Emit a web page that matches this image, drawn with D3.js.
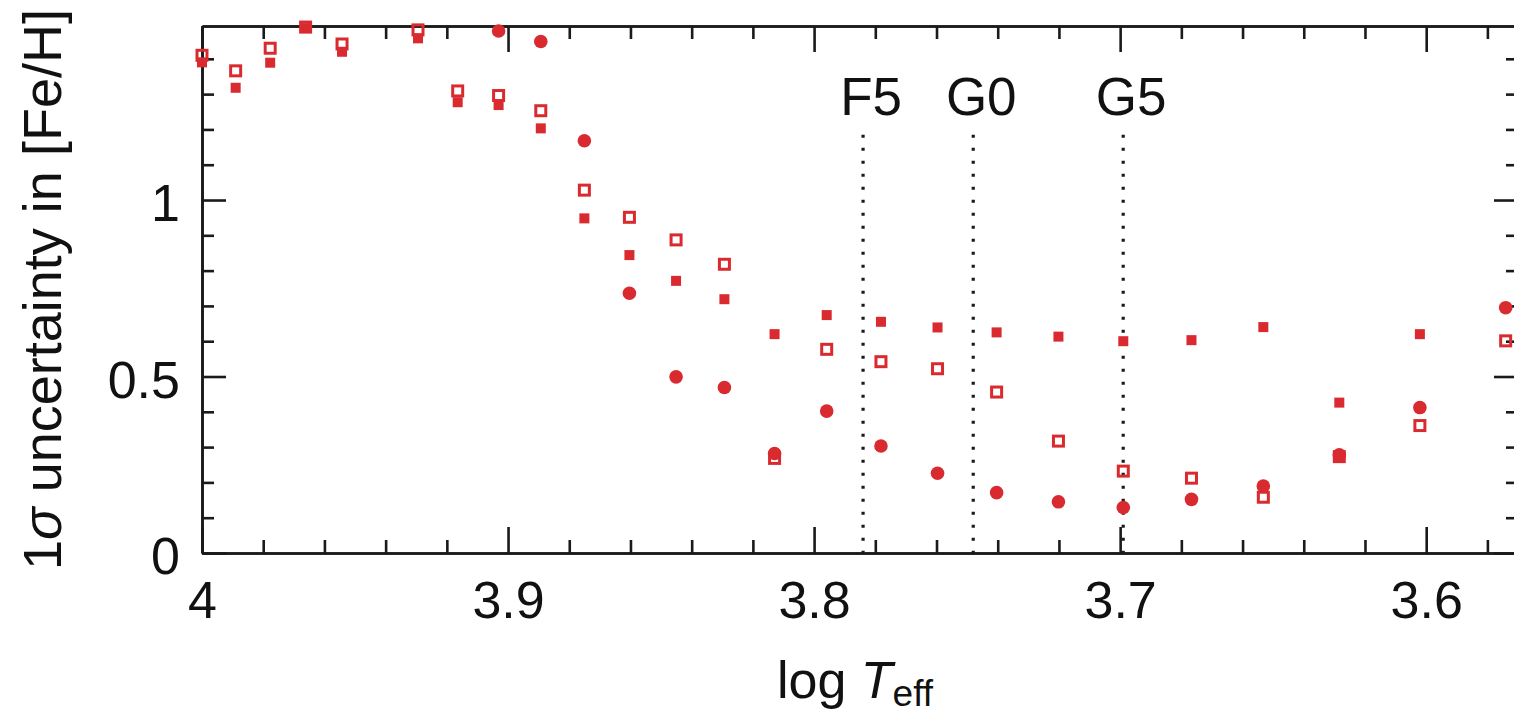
<!DOCTYPE html>
<html>
<head>
<meta charset="utf-8">
<script src="https://cdn.jsdelivr.net/npm/d3@7"></script>
<style>
  html, body { margin: 0; padding: 0; background: #fff; }
  svg { display: block; }
  text { font-family: "Liberation Sans", Arial, Helvetica, sans-serif; fill: #111; }
</style>
</head>
<body>
<svg id="chart" width="1514" height="715"></svg>
<script>
// Effective-temperature grid (K) of the model stars
const teff = [10000, 9750, 9500, 9250, 9000, 8750, 8500, 8250, 8000, 7750, 7500, 7250, 7000,
              6750, 6500, 6250, 6000, 5750, 5500, 5250, 5000, 4750, 4500, 4250, 4000, 3750];

// 1-sigma [Fe/H] uncertainty for three configurations (null = not plotted)
const filledSquares = [1.390, 1.318, 1.389, 1.487, 1.420, null, 1.458, 1.277, 1.269, 1.203, 0.948, 0.844, 0.771,
                       0.719, 0.620, 0.674, 0.655, 0.639, 0.625, 0.613, 0.600, 0.603, 0.640, 0.426, 0.620, null];
const openSquares   = [1.410, 1.366, 1.430, 1.490, 1.442, null, 1.482, 1.309, 1.296, 1.253, 1.028, 0.951, 0.887,
                       0.818, 0.268, 0.577, 0.542, 0.522, 0.456, 0.317, 0.232, 0.212, 0.158, 0.273, 0.361, 0.601];
const filledCircles = [null, null, null, null, null, null, null, null, 1.479, 1.449, 1.168, 0.736, 0.499,
                       0.469, 0.282, 0.402, 0.303, 0.226, 0.171, 0.145, 0.129, 0.152, 0.190, 0.278, 0.412, 0.695];

// Spectral-type markers (log Teff)
const spTypes = ["F5", "G0", "G5"];
const spLogT  = [3.784, 3.748, 3.699];

// Axis ticks
const xMajor = [4, 3.9, 3.8, 3.7, 3.6];
const xMajorLabels = ["4", "3.9", "3.8", "3.7", "3.6"];
const xMinor = [3.98, 3.96, 3.94, 3.92, 3.88, 3.86, 3.84, 3.82, 3.78, 3.76, 3.74, 3.72,
                3.68, 3.66, 3.64, 3.62, 3.58];
const yMajor = [0, 0.5, 1];
const yMajorLabels = ["0", "0.5", "1"];
const yMinor = [0.1, 0.2, 0.3, 0.4, 0.6, 0.7, 0.8, 0.9, 1.1, 1.2, 1.3, 1.4];

const red = "#d92a2f";
const plotL = 202, plotR = 1518, plotT = 26, plotB = 553;

const svg = d3.select("#chart");
svg.append("rect").attr("width", 1514).attr("height", 715).attr("fill", "#fff");

const x = d3.scaleLinear().domain([4, 3.57]).range([plotL, plotR]);
const y = d3.scaleLinear().domain([0, 1.493]).range([plotB, plotT]);

const axisStroke = "#1a1a1a";
function styleAxis(g) {
  g.select(".domain").attr("stroke", axisStroke).attr("stroke-width", 2.6);
  g.selectAll(".tick line").attr("stroke", axisStroke).attr("stroke-width", 2.6);
}

// Minor ticks on all four sides
svg.append("g").attr("transform", `translate(0,${plotB})`)
  .call(d3.axisBottom(x).tickValues(xMinor).tickSize(-13).tickSizeOuter(0).tickFormat(""))
  .call(styleAxis);
svg.append("g").attr("transform", `translate(0,${plotT})`)
  .call(d3.axisTop(x).tickValues(xMinor).tickSize(-13).tickSizeOuter(0).tickFormat(""))
  .call(styleAxis);
svg.append("g").attr("transform", `translate(${plotL},0)`)
  .call(d3.axisLeft(y).tickValues(yMinor).tickSize(-12).tickSizeOuter(0).tickFormat(""))
  .call(styleAxis);
svg.append("g").attr("transform", `translate(${plotR},0)`)
  .call(d3.axisRight(y).tickValues(yMinor).tickSize(-12).tickSizeOuter(0).tickFormat(""))
  .call(styleAxis);

// Major ticks
const xAxis = svg.append("g").attr("transform", `translate(0,${plotB})`)
  .call(d3.axisBottom(x).tickValues(xMajor).tickSize(-26).tickSizeOuter(0).tickPadding(28)
    .tickFormat((d, i) => xMajorLabels[i]))
  .call(styleAxis);
xAxis.selectAll("text").attr("font-size", 52).attr("font-family", null).attr("fill", "#111");

svg.append("g").attr("transform", `translate(0,${plotT})`)
  .call(d3.axisTop(x).tickValues(xMajor).tickSize(-26).tickSizeOuter(0).tickFormat(""))
  .call(styleAxis);

const yAxis = svg.append("g").attr("transform", `translate(${plotL},0)`)
  .call(d3.axisLeft(y).tickValues(yMajor).tickSize(-24).tickSizeOuter(0).tickPadding(22)
    .tickFormat((d, i) => yMajorLabels[i]))
  .call(styleAxis);
yAxis.selectAll("text").attr("font-size", 52).attr("font-family", null).attr("fill", "#111")
  .attr("dy", "0.40em");

svg.append("g").attr("transform", `translate(${plotR},0)`)
  .call(d3.axisRight(y).tickValues(yMajor).tickSize(-24).tickSizeOuter(0).tickFormat(""))
  .call(styleAxis);

// Spectral-type reference lines
const lineTop = 1.185;
spTypes.forEach((name, i) => {
  svg.append("line")
    .attr("x1", x(spLogT[i])).attr("x2", x(spLogT[i]))
    .attr("y1", y(lineTop)).attr("y2", y(0))
    .attr("stroke", "#1a1a1a").attr("stroke-width", 3.2)
    .attr("stroke-dasharray", "3 10");
  svg.append("text")
    .attr("x", x(spLogT[i]) + 8).attr("y", 115)
    .attr("text-anchor", "middle").attr("font-size", 53)
    .text(name);
});

// Data points
const pts = (vals) => teff.map((t, i) => ({ lx: Math.log10(t), v: vals[i] })).filter(d => d.v !== null);

const openSide = 10;
svg.append("g").selectAll("rect").data(pts(openSquares)).join("rect")
  .attr("x", d => x(d.lx) - openSide / 2).attr("y", d => y(d.v) - openSide / 2)
  .attr("width", openSide).attr("height", openSide)
  .attr("fill", "none").attr("stroke", red).attr("stroke-width", 3);

const fillSide = 10;
svg.append("g").selectAll("rect").data(pts(filledSquares)).join("rect")
  .attr("x", d => x(d.lx) - fillSide / 2).attr("y", d => y(d.v) - fillSide / 2)
  .attr("width", fillSide).attr("height", fillSide)
  .attr("fill", red);

svg.append("g").selectAll("circle").data(pts(filledCircles)).join("circle")
  .attr("cx", d => x(d.lx)).attr("cy", d => y(d.v)).attr("r", 6.8)
  .attr("fill", red);

// Axis titles
const xt = svg.append("text").attr("x", 777).attr("y", 698).attr("font-size", 52);
xt.append("tspan").text("log ");
xt.append("tspan").attr("font-style", "italic").text("T");
xt.append("tspan").attr("font-size", 37).attr("dy", 8).text("eff");

const yt = svg.append("text")
  .attr("transform", `translate(61,${(plotT + plotB) / 2}) rotate(-90)`)
  .attr("text-anchor", "middle").attr("font-size", 54);
yt.append("tspan").text("1");
yt.append("tspan").attr("font-style", "italic").text("σ");
yt.append("tspan").text(" uncertainty in [Fe/H]");
</script>
</body>
</html>
